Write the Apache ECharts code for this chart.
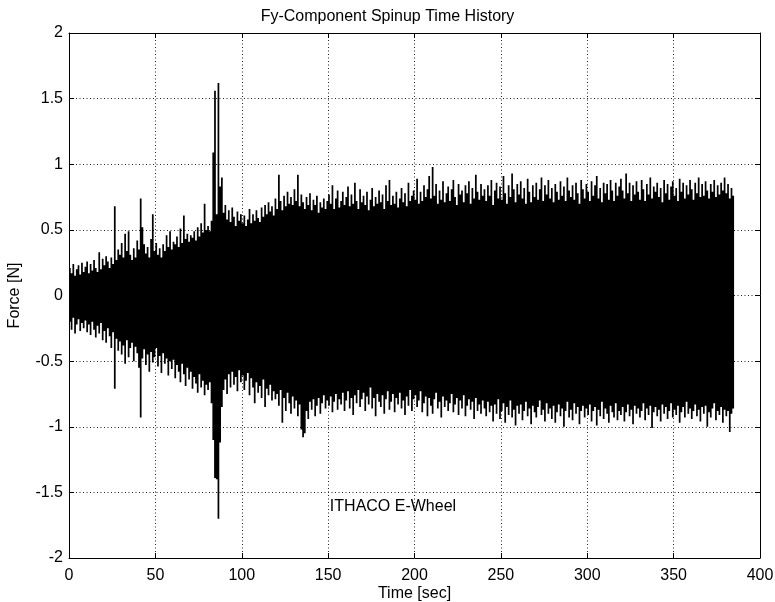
<!DOCTYPE html>
<html>
<head>
<meta charset="utf-8">
<script src="https://cdn.jsdelivr.net/npm/echarts@6/dist/echarts.min.js"></script>
<style>html,body{margin:0;padding:0;background:#fff}#c{width:775px;height:602px}</style>
</head>
<body>
<div id="c"></div>
<script>
// Upper envelope (max force in each 1-second bucket), t = 0..384 s
const upperForce = [
0.21,0.17,0.24,0.15,0.20,0.23,0.16,0.25,0.18,0.22,
0.26,0.17,0.24,0.19,0.27,0.21,0.18,0.33,0.20,0.28,
0.23,0.30,0.26,0.21,0.29,0.24,0.68,0.27,0.35,0.31,
0.40,0.29,0.47,0.34,0.49,0.31,0.27,0.36,0.29,0.42,
0.35,0.74,0.52,0.39,0.32,0.37,0.29,0.43,0.62,0.34,
0.40,0.31,0.36,0.29,0.39,0.34,0.46,0.37,0.49,0.35,
0.41,0.39,0.45,0.37,0.51,0.40,0.61,0.43,0.47,0.41,
0.46,0.44,0.49,0.42,0.52,0.45,0.55,0.48,0.70,0.50,
0.53,0.49,0.57,1.09,1.56,0.62,1.62,0.83,0.90,0.63,
0.69,0.58,0.65,0.56,0.67,0.60,0.53,0.64,0.57,0.62,
0.55,0.61,0.53,0.58,0.66,0.55,0.62,0.57,0.65,0.59,
0.56,0.67,0.60,0.69,0.62,0.71,0.64,0.68,0.61,0.74,
0.66,0.92,0.72,0.65,0.76,0.68,0.79,0.70,0.75,0.69,
0.81,0.72,0.92,0.68,0.77,0.71,0.66,0.75,0.69,0.78,
0.65,0.73,0.69,0.76,0.63,0.71,0.67,0.74,0.66,0.72,
0.77,0.70,0.84,0.66,0.74,0.80,0.67,0.72,0.79,0.69,
0.75,0.83,0.68,0.77,0.70,0.86,0.72,0.66,0.81,0.71,
0.76,0.69,0.79,0.65,0.73,0.82,0.68,0.75,0.70,0.80,
0.71,0.77,0.66,0.84,0.72,0.88,0.69,0.76,0.70,0.79,
0.67,0.74,0.82,0.71,0.78,0.68,0.86,0.72,0.76,0.80,
0.73,0.89,0.70,0.79,0.72,0.84,0.75,0.81,0.91,0.74,
0.98,0.76,0.85,0.70,0.80,0.73,0.87,0.71,0.78,0.83,
0.72,0.81,0.88,0.75,0.69,0.85,0.77,0.80,0.71,0.84,
0.78,0.87,0.70,0.82,0.74,0.92,0.79,0.73,0.85,0.76,
0.81,0.72,0.84,0.76,0.88,0.69,0.80,0.86,0.74,0.83,
0.73,0.91,0.78,0.70,0.84,0.75,0.93,0.81,0.71,0.85,
0.77,0.87,0.74,0.82,0.70,0.89,0.79,0.71,0.84,0.75,
0.86,0.73,0.81,0.90,0.72,0.84,0.77,0.88,0.74,0.82,
0.71,0.85,0.79,0.73,0.87,0.76,0.83,0.72,0.90,0.80,
0.75,0.84,0.73,0.86,0.78,0.70,0.88,0.81,0.74,0.85,
0.79,0.72,0.87,0.76,0.84,0.91,0.74,0.82,0.71,0.86,
0.78,0.85,0.73,0.88,0.80,0.72,0.86,0.76,0.83,0.89,
0.80,0.74,0.93,0.78,0.86,0.72,0.84,0.77,0.87,0.79,
0.73,0.88,0.81,0.72,0.85,0.77,0.90,0.74,0.83,0.79,
0.86,0.75,0.82,0.71,0.88,0.78,0.85,0.73,0.83,0.87,
0.76,0.82,0.72,0.89,0.79,0.86,0.74,0.84,0.77,0.88,
0.81,0.73,0.86,0.78,0.90,0.75,0.85,0.76,0.87,0.80,
0.74,0.85,0.79,0.88,0.75,0.84,0.77,0.86,0.80,0.90,
0.78,0.85,0.74,0.82,0.76
];
// Lower envelope (min force in each 1-second bucket), t = 0..384 s
const lowerForce = [
-0.20,-0.26,-0.17,-0.29,-0.22,-0.18,-0.27,-0.21,-0.25,-0.19,
-0.28,-0.22,-0.30,-0.20,-0.26,-0.32,-0.23,-0.29,-0.21,-0.34,
-0.27,-0.36,-0.25,-0.31,-0.40,-0.28,-0.71,-0.33,-0.42,-0.35,
-0.45,-0.38,-0.52,-0.34,-0.47,-0.40,-0.36,-0.50,-0.39,-0.44,
-0.55,-0.93,-0.48,-0.41,-0.53,-0.45,-0.58,-0.43,-0.51,-0.47,
-0.40,-0.54,-0.46,-0.59,-0.44,-0.52,-0.48,-0.61,-0.50,-0.56,
-0.49,-0.63,-0.53,-0.58,-0.66,-0.52,-0.60,-0.69,-0.55,-0.64,
-0.58,-0.71,-0.62,-0.67,-0.74,-0.60,-0.70,-0.65,-0.76,-0.68,
-0.72,-0.66,-0.82,-1.10,-1.39,-1.40,-1.70,-1.12,-0.85,-0.72,
-0.64,-0.75,-0.60,-0.70,-0.58,-0.68,-0.62,-0.73,-0.57,-0.66,
-0.61,-0.72,-0.65,-0.59,-0.76,-0.63,-0.70,-0.82,-0.66,-0.74,
-0.69,-0.78,-0.64,-0.85,-0.71,-0.76,-0.68,-0.80,-0.73,-0.79,
-0.75,-0.84,-0.72,-0.97,-0.78,-0.88,-0.74,-0.82,-0.90,-0.77,
-0.86,-0.80,-0.92,-0.83,-1.02,-1.08,-1.05,-0.88,-0.94,-0.81,
-0.87,-0.79,-0.92,-0.84,-0.78,-0.90,-0.82,-0.76,-0.86,-0.80,
-0.84,-0.77,-0.89,-0.81,-0.75,-0.87,-0.79,-0.83,-0.74,-0.88,
-0.80,-0.73,-0.86,-0.78,-0.91,-0.76,-0.82,-0.72,-0.85,-0.79,
-0.74,-0.88,-0.77,-0.83,-0.70,-0.86,-0.78,-0.92,-0.75,-0.81,
-0.85,-0.76,-0.90,-0.79,-0.73,-0.87,-0.81,-0.75,-0.89,-0.78,
-0.83,-0.74,-0.86,-0.80,-0.91,-0.77,-0.84,-0.72,-0.88,-0.79,
-0.76,-0.85,-0.80,-0.73,-0.89,-0.82,-0.77,-0.92,-0.78,-0.84,
-0.90,-0.79,-0.74,-0.86,-0.81,-0.93,-0.77,-0.85,-0.80,-0.88,
-0.82,-0.75,-0.89,-0.83,-0.78,-0.91,-0.80,-0.86,-0.76,-0.92,
-0.84,-0.79,-0.87,-0.81,-0.94,-0.78,-0.88,-0.83,-0.90,-0.80,
-0.86,-0.92,-0.81,-0.89,-0.84,-0.96,-0.83,-0.90,-0.79,-0.94,
-0.88,-0.82,-0.97,-0.85,-0.91,-0.80,-0.93,-0.87,-0.99,-0.84,
-0.90,-0.83,-0.95,-0.88,-0.81,-0.92,-0.86,-0.98,-0.84,-0.89,
-0.93,-0.85,-0.80,-0.91,-0.87,-0.96,-0.82,-0.90,-0.86,-0.94,
-0.84,-0.97,-0.89,-0.83,-0.92,-0.86,-1.00,-0.88,-0.81,-0.93,
-0.87,-0.95,-0.82,-0.90,-0.85,-0.98,-0.88,-0.84,-0.93,-0.86,
-0.91,-0.83,-0.96,-0.88,-0.85,-0.99,-0.87,-0.92,-0.81,-0.94,
-0.86,-0.90,-0.97,-0.84,-0.89,-0.93,-0.82,-0.95,-0.88,-0.91,
-0.85,-0.96,-0.89,-0.83,-0.92,-0.87,-0.98,-0.84,-0.90,-0.86,
-0.93,-0.88,-0.82,-0.95,-0.86,-0.91,-0.84,-1.01,-0.89,-0.85,
-0.92,-0.87,-0.96,-0.83,-0.90,-0.85,-0.94,-0.88,-0.82,-0.93,
-0.87,-0.91,-0.84,-0.97,-0.89,-0.85,-0.93,-0.81,-0.90,-0.86,
-0.94,-0.88,-0.83,-0.92,-0.87,-0.96,-0.85,-0.90,-0.84,-1.00,
-0.89,-0.93,-0.86,-0.82,-0.95,-0.88,-0.91,-0.85,-0.97,-0.87,
-0.92,-0.88,-1.04,-0.90,-0.86
];
const bucketSeconds = 1;           // width of each envelope bucket [sec]
const xTicks = [0, 50, 100, 150, 200, 250, 300, 350, 400];
const yTicks = [-2, -1.5, -1, -0.5, 0, 0.5, 1, 1.5, 2];
const annotation = { text: 'ITHACO E-Wheel', time: 151, force: -1.61 };

const FONT = '"Liberation Sans", Arial, Helvetica, sans-serif';
const bandData = upperForce.map((hi, i) => [i * bucketSeconds, lowerForce[i], hi]);

const chart = echarts.init(document.getElementById('c'), null, { renderer: 'canvas' });
const gridLine = { show: true, lineStyle: { color: '#222', width: 1, type: [1, 2.5] } };
const tickCommon = { show: true, inside: true, length: 5, lineStyle: { color: '#000', width: 1 } };
const axisLineCommon = { show: true, onZero: false, lineStyle: { color: '#000', width: 1 } };

// Whole band drawn as one stepped polygon (upper edge left->right, lower edge right->left)
function renderBand(params, api) {
  if (params.dataIndex !== 0) return null;
  const pts = [];
  for (let i = 0; i < bandData.length; i++) {
    const t = bandData[i][0];
    pts.push(api.coord([t, bandData[i][2]]));
    pts.push(api.coord([t + bucketSeconds, bandData[i][2]]));
  }
  for (let i = bandData.length - 1; i >= 0; i--) {
    const t = bandData[i][0];
    pts.push(api.coord([t + bucketSeconds, bandData[i][1]]));
    pts.push(api.coord([t, bandData[i][1]]));
  }
  return { type: 'polygon', shape: { points: pts }, style: { fill: '#000' } };
}

chart.setOption({
  animation: false,
  backgroundColor: '#fff',
  textStyle: { fontFamily: FONT },
  title: {
    text: 'Fy-Component Spinup Time History',
    left: 'center', top: 4,
    textStyle: { fontFamily: FONT, fontSize: 16, fontWeight: 'normal', color: '#000' }
  },
  grid: { left: 69, right: 15, top: 33, bottom: 44, containLabel: false, outerBoundsMode: 'none' },
  xAxis: [{
    type: 'value', min: xTicks[0], max: xTicks[xTicks.length - 1], interval: xTicks[1] - xTicks[0],
    position: 'bottom',
    name: 'Time [sec]', nameLocation: 'middle', nameGap: 28, nameMoveOverlap: false,
    nameTextStyle: { fontFamily: FONT, fontSize: 16, color: '#000' },
    axisLine: axisLineCommon, axisTick: tickCommon,
    axisLabel: { fontFamily: FONT, fontSize: 16, color: '#000', margin: 10 },
    splitLine: gridLine
  }, {
    type: 'value', min: xTicks[0], max: xTicks[xTicks.length - 1], interval: xTicks[1] - xTicks[0],
    position: 'top',
    axisLine: axisLineCommon, axisTick: tickCommon,
    axisLabel: { show: false }, splitLine: { show: false }
  }],
  yAxis: [{
    type: 'value', min: yTicks[0], max: yTicks[yTicks.length - 1], interval: yTicks[1] - yTicks[0],
    position: 'left',
    name: 'Force [N]', nameLocation: 'middle', nameGap: 46, nameMoveOverlap: false,
    nameTextStyle: { fontFamily: FONT, fontSize: 16, color: '#000' },
    axisLine: axisLineCommon, axisTick: tickCommon,
    axisLabel: { fontFamily: FONT, fontSize: 16, color: '#000', margin: 6 },
    splitLine: gridLine
  }, {
    type: 'value', min: yTicks[0], max: yTicks[yTicks.length - 1], interval: yTicks[1] - yTicks[0],
    position: 'right',
    axisLine: axisLineCommon, axisTick: tickCommon,
    axisLabel: { show: false }, splitLine: { show: false }
  }],
  series: [{
    type: 'custom',
    name: 'Fy',
    xAxisIndex: 0, yAxisIndex: 0,
    clip: true,
    silent: true,
    encode: { x: 0, y: [1, 2] },
    data: bandData,
    renderItem: renderBand
  }, {
    type: 'scatter',
    name: 'annotation',
    silent: true,
    symbolSize: 0,
    itemStyle: { color: '#000' },
    data: [[annotation.time, annotation.force]],
    label: {
      show: true, position: 'right', distance: 0,
      formatter: annotation.text,
      fontFamily: FONT, fontSize: 16, color: '#000', opacity: 1
    }
  }]
});
</script>
</body>
</html>
